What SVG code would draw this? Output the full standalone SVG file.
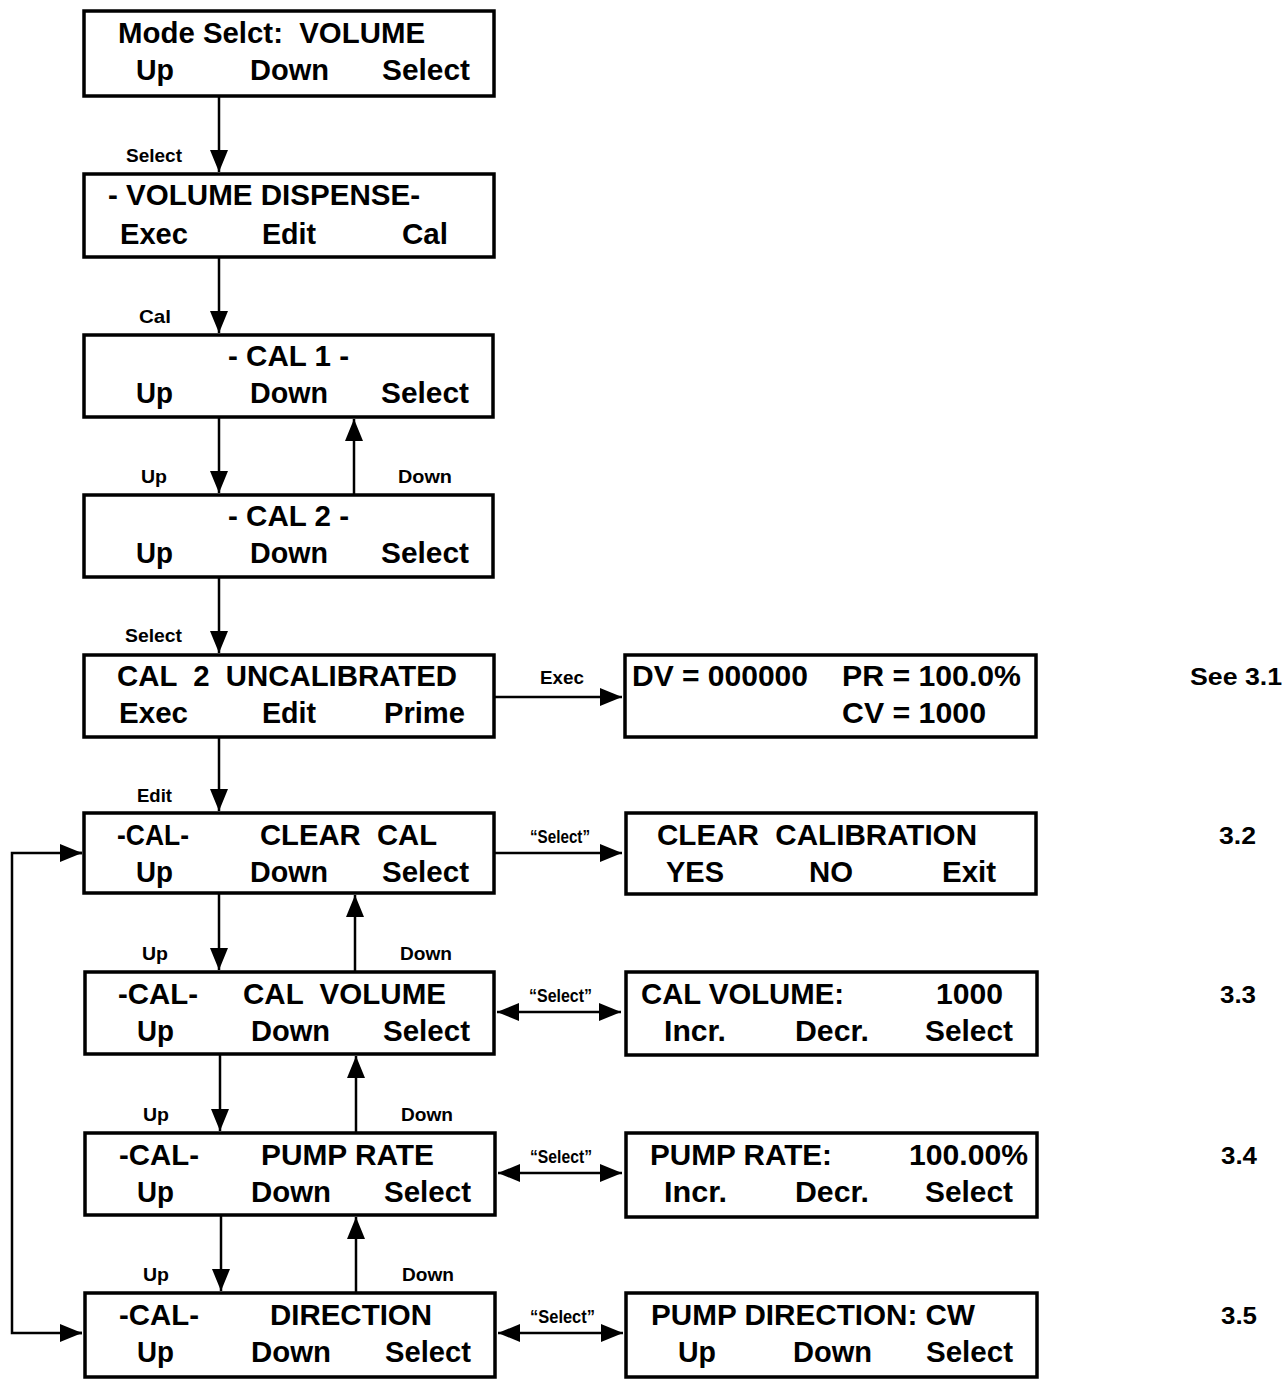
<svg xmlns="http://www.w3.org/2000/svg" width="1282" height="1383" viewBox="0 0 1282 1383" xml:space="preserve">
<style>
text{font-family:"Liberation Sans",Arial,sans-serif;font-weight:bold;fill:#000;white-space:pre}
.m{font-size:30px}
.s{font-size:19px}
.n{font-size:24px}
.box{fill:#fff;stroke:#000;stroke-width:3.5}
.c{stroke:#000;stroke-width:2.5;fill:none}
</style>
<defs>
<marker id="ah" viewBox="0 0 22 18" refX="22" refY="9" markerWidth="22" markerHeight="18" markerUnits="userSpaceOnUse" orient="auto-start-reverse">
<path d="M0,0 L22,9 L0,18 z" fill="#000"/>
</marker>
</defs>
<rect width="1282" height="1383" fill="#fff"/>

<g id="connectors">
<line class="c" x1="219" y1="96" x2="219" y2="172" marker-end="url(#ah)"/>
<line class="c" x1="219" y1="257" x2="219" y2="333" marker-end="url(#ah)"/>
<line class="c" x1="219" y1="417" x2="219" y2="493" marker-end="url(#ah)"/>
<line class="c" x1="354" y1="495" x2="354" y2="419" marker-end="url(#ah)"/>
<line class="c" x1="219" y1="577" x2="219" y2="653" marker-end="url(#ah)"/>
<line class="c" x1="219" y1="737" x2="219" y2="811" marker-end="url(#ah)"/>
<line class="c" x1="219" y1="893" x2="219" y2="970" marker-end="url(#ah)"/>
<line class="c" x1="355" y1="972" x2="355" y2="895" marker-end="url(#ah)"/>
<line class="c" x1="220" y1="1054" x2="220" y2="1131" marker-end="url(#ah)"/>
<line class="c" x1="356" y1="1133" x2="356" y2="1056" marker-end="url(#ah)"/>
<line class="c" x1="221" y1="1215" x2="221" y2="1291" marker-end="url(#ah)"/>
<line class="c" x1="356" y1="1293" x2="356" y2="1217" marker-end="url(#ah)"/>
<line class="c" x1="494" y1="697" x2="622" y2="697" marker-end="url(#ah)"/>
<line class="c" x1="494" y1="853" x2="622" y2="853" marker-end="url(#ah)"/>
<line class="c" x1="497" y1="1012" x2="621" y2="1012" marker-start="url(#ah)" marker-end="url(#ah)"/>
<line class="c" x1="498" y1="1173" x2="622" y2="1173" marker-start="url(#ah)" marker-end="url(#ah)"/>
<line class="c" x1="498" y1="1333" x2="623" y2="1333" marker-start="url(#ah)" marker-end="url(#ah)"/>
<polyline class="c" points="82,853 12,853 12,1333 82,1333"/>
<line class="c" x1="60" y1="853" x2="82" y2="853" marker-end="url(#ah)"/>
<line class="c" x1="60" y1="1333" x2="82" y2="1333" marker-end="url(#ah)"/>
<text class="s" x="126" y="162" textLength="56" lengthAdjust="spacingAndGlyphs">Select</text>
<text class="s" x="139" y="323" textLength="32" lengthAdjust="spacingAndGlyphs">Cal</text>
<text class="s" x="141" y="483" textLength="26" lengthAdjust="spacingAndGlyphs">Up</text>
<text class="s" x="398" y="483" textLength="54" lengthAdjust="spacingAndGlyphs">Down</text>
<text class="s" x="125" y="642" textLength="57" lengthAdjust="spacingAndGlyphs">Select</text>
<text class="s" x="540" y="684" textLength="44" lengthAdjust="spacingAndGlyphs">Exec</text>
<text class="s" x="137" y="802" textLength="35" lengthAdjust="spacingAndGlyphs">Edit</text>
<text class="s" x="530" y="843" textLength="60" lengthAdjust="spacingAndGlyphs">“Select”</text>
<text class="s" x="142" y="960" textLength="26" lengthAdjust="spacingAndGlyphs">Up</text>
<text class="s" x="400" y="960" textLength="52" lengthAdjust="spacingAndGlyphs">Down</text>
<text class="s" x="529" y="1002" textLength="63" lengthAdjust="spacingAndGlyphs">“Select”</text>
<text class="s" x="143" y="1121" textLength="26" lengthAdjust="spacingAndGlyphs">Up</text>
<text class="s" x="401" y="1121" textLength="52" lengthAdjust="spacingAndGlyphs">Down</text>
<text class="s" x="530" y="1163" textLength="62" lengthAdjust="spacingAndGlyphs">“Select”</text>
<text class="s" x="143" y="1281" textLength="26" lengthAdjust="spacingAndGlyphs">Up</text>
<text class="s" x="402" y="1281" textLength="52" lengthAdjust="spacingAndGlyphs">Down</text>
<text class="s" x="530" y="1323" textLength="65" lengthAdjust="spacingAndGlyphs">“Select”</text>
</g>

<g id="n-mode">
<rect class="box" x="84" y="11" width="410" height="85"/>
<text class="m" x="118" y="43" textLength="307" lengthAdjust="spacingAndGlyphs">Mode Selct:  VOLUME</text>
<text class="m" x="136" y="80" textLength="38" lengthAdjust="spacingAndGlyphs">Up</text>
<text class="m" x="250" y="80" textLength="79" lengthAdjust="spacingAndGlyphs">Down</text>
<text class="m" x="382" y="80" textLength="88" lengthAdjust="spacingAndGlyphs">Select</text>
</g>

<g id="n-volume">
<rect class="box" x="84" y="174" width="410" height="83"/>
<text class="m" x="108" y="205" textLength="312" lengthAdjust="spacingAndGlyphs">- VOLUME DISPENSE-</text>
<text class="m" x="120" y="244" textLength="68" lengthAdjust="spacingAndGlyphs">Exec</text>
<text class="m" x="262" y="244" textLength="54" lengthAdjust="spacingAndGlyphs">Edit</text>
<text class="m" x="402" y="244" textLength="46" lengthAdjust="spacingAndGlyphs">Cal</text>
</g>

<g id="n-cal1">
<rect class="box" x="84" y="335" width="409" height="82"/>
<text class="m" x="228" y="366" textLength="121" lengthAdjust="spacingAndGlyphs">- CAL 1 -</text>
<text class="m" x="136" y="403" textLength="37" lengthAdjust="spacingAndGlyphs">Up</text>
<text class="m" x="250" y="403" textLength="78" lengthAdjust="spacingAndGlyphs">Down</text>
<text class="m" x="381" y="403" textLength="88" lengthAdjust="spacingAndGlyphs">Select</text>
</g>

<g id="n-cal2">
<rect class="box" x="84" y="495" width="409" height="82"/>
<text class="m" x="228" y="526" textLength="121" lengthAdjust="spacingAndGlyphs">- CAL 2 -</text>
<text class="m" x="136" y="563" textLength="37" lengthAdjust="spacingAndGlyphs">Up</text>
<text class="m" x="250" y="563" textLength="78" lengthAdjust="spacingAndGlyphs">Down</text>
<text class="m" x="381" y="563" textLength="88" lengthAdjust="spacingAndGlyphs">Select</text>
</g>

<g id="n-uncal">
<rect class="box" x="84" y="655" width="410" height="82"/>
<text class="m" x="117" y="686" textLength="340" lengthAdjust="spacingAndGlyphs">CAL  2  UNCALIBRATED</text>
<text class="m" x="119" y="723" textLength="69" lengthAdjust="spacingAndGlyphs">Exec</text>
<text class="m" x="262" y="723" textLength="54" lengthAdjust="spacingAndGlyphs">Edit</text>
<text class="m" x="384" y="723" textLength="81" lengthAdjust="spacingAndGlyphs">Prime</text>
</g>

<g id="n-clearcal">
<rect class="box" x="84" y="813" width="410" height="80"/>
<text class="m" x="117" y="845" textLength="72" lengthAdjust="spacingAndGlyphs">-CAL-</text>
<text class="m" x="260" y="845" textLength="177" lengthAdjust="spacingAndGlyphs">CLEAR  CAL</text>
<text class="m" x="136" y="882" textLength="37" lengthAdjust="spacingAndGlyphs">Up</text>
<text class="m" x="250" y="882" textLength="78" lengthAdjust="spacingAndGlyphs">Down</text>
<text class="m" x="382" y="882" textLength="87" lengthAdjust="spacingAndGlyphs">Select</text>
</g>

<g id="n-calvolume">
<rect class="box" x="85" y="972" width="409" height="82"/>
<text class="m" x="118" y="1004" textLength="80" lengthAdjust="spacingAndGlyphs">-CAL-</text>
<text class="m" x="243" y="1004" textLength="203" lengthAdjust="spacingAndGlyphs">CAL  VOLUME</text>
<text class="m" x="137" y="1041" textLength="37" lengthAdjust="spacingAndGlyphs">Up</text>
<text class="m" x="251" y="1041" textLength="79" lengthAdjust="spacingAndGlyphs">Down</text>
<text class="m" x="383" y="1041" textLength="87" lengthAdjust="spacingAndGlyphs">Select</text>
</g>

<g id="n-pumprate">
<rect class="box" x="85" y="1133" width="410" height="82"/>
<text class="m" x="119" y="1165" textLength="80" lengthAdjust="spacingAndGlyphs">-CAL-</text>
<text class="m" x="261" y="1165" textLength="173" lengthAdjust="spacingAndGlyphs">PUMP RATE</text>
<text class="m" x="137" y="1202" textLength="37" lengthAdjust="spacingAndGlyphs">Up</text>
<text class="m" x="251" y="1202" textLength="80" lengthAdjust="spacingAndGlyphs">Down</text>
<text class="m" x="384" y="1202" textLength="87" lengthAdjust="spacingAndGlyphs">Select</text>
</g>

<g id="n-direction">
<rect class="box" x="85" y="1293" width="410" height="84"/>
<text class="m" x="119" y="1325" textLength="80" lengthAdjust="spacingAndGlyphs">-CAL-</text>
<text class="m" x="270" y="1325" textLength="162" lengthAdjust="spacingAndGlyphs">DIRECTION</text>
<text class="m" x="137" y="1362" textLength="37" lengthAdjust="spacingAndGlyphs">Up</text>
<text class="m" x="251" y="1362" textLength="80" lengthAdjust="spacingAndGlyphs">Down</text>
<text class="m" x="385" y="1362" textLength="86" lengthAdjust="spacingAndGlyphs">Select</text>
</g>

<g id="r-dv">
<rect class="box" x="625" y="655" width="411" height="82"/>
<text class="m" x="632" y="686" textLength="176" lengthAdjust="spacingAndGlyphs">DV = 000000</text>
<text class="m" x="842" y="686" textLength="179" lengthAdjust="spacingAndGlyphs">PR = 100.0%</text>
<text class="m" x="842" y="723" textLength="144" lengthAdjust="spacingAndGlyphs">CV = 1000</text>
</g>

<g id="r-clear">
<rect class="box" x="626" y="813" width="410" height="81"/>
<text class="m" x="657" y="845" textLength="320" lengthAdjust="spacingAndGlyphs">CLEAR  CALIBRATION</text>
<text class="m" x="666" y="882" textLength="58" lengthAdjust="spacingAndGlyphs">YES</text>
<text class="m" x="809" y="882" textLength="44" lengthAdjust="spacingAndGlyphs">NO</text>
<text class="m" x="942" y="882" textLength="54" lengthAdjust="spacingAndGlyphs">Exit</text>
</g>

<g id="r-calvol">
<rect class="box" x="626" y="972" width="411" height="83"/>
<text class="m" x="641" y="1004" textLength="203" lengthAdjust="spacingAndGlyphs">CAL VOLUME:</text>
<text class="m" x="936" y="1004" textLength="67" lengthAdjust="spacingAndGlyphs">1000</text>
<text class="m" x="664" y="1041" textLength="62" lengthAdjust="spacingAndGlyphs">Incr.</text>
<text class="m" x="795" y="1041" textLength="74" lengthAdjust="spacingAndGlyphs">Decr.</text>
<text class="m" x="925" y="1041" textLength="88" lengthAdjust="spacingAndGlyphs">Select</text>
</g>

<g id="r-pumprate">
<rect class="box" x="626" y="1133" width="411" height="84"/>
<text class="m" x="650" y="1165" textLength="182" lengthAdjust="spacingAndGlyphs">PUMP RATE:</text>
<text class="m" x="909" y="1165" textLength="119" lengthAdjust="spacingAndGlyphs">100.00%</text>
<text class="m" x="664" y="1202" textLength="63" lengthAdjust="spacingAndGlyphs">Incr.</text>
<text class="m" x="795" y="1202" textLength="74" lengthAdjust="spacingAndGlyphs">Decr.</text>
<text class="m" x="925" y="1202" textLength="88" lengthAdjust="spacingAndGlyphs">Select</text>
</g>

<g id="r-direction">
<rect class="box" x="626" y="1293" width="411" height="84"/>
<text class="m" x="651" y="1325" textLength="324" lengthAdjust="spacingAndGlyphs">PUMP DIRECTION: CW</text>
<text class="m" x="678" y="1362" textLength="38" lengthAdjust="spacingAndGlyphs">Up</text>
<text class="m" x="793" y="1362" textLength="79" lengthAdjust="spacingAndGlyphs">Down</text>
<text class="m" x="926" y="1362" textLength="87" lengthAdjust="spacingAndGlyphs">Select</text>
</g>

<g id="side-labels">
<text class="n" x="1190" y="685" textLength="92" lengthAdjust="spacingAndGlyphs">See 3.1</text>
<text class="n" x="1219" y="844" textLength="37" lengthAdjust="spacingAndGlyphs">3.2</text>
<text class="n" x="1220" y="1003" textLength="36" lengthAdjust="spacingAndGlyphs">3.3</text>
<text class="n" x="1221" y="1164" textLength="36" lengthAdjust="spacingAndGlyphs">3.4</text>
<text class="n" x="1221" y="1324" textLength="36" lengthAdjust="spacingAndGlyphs">3.5</text>
</g>
</svg>
